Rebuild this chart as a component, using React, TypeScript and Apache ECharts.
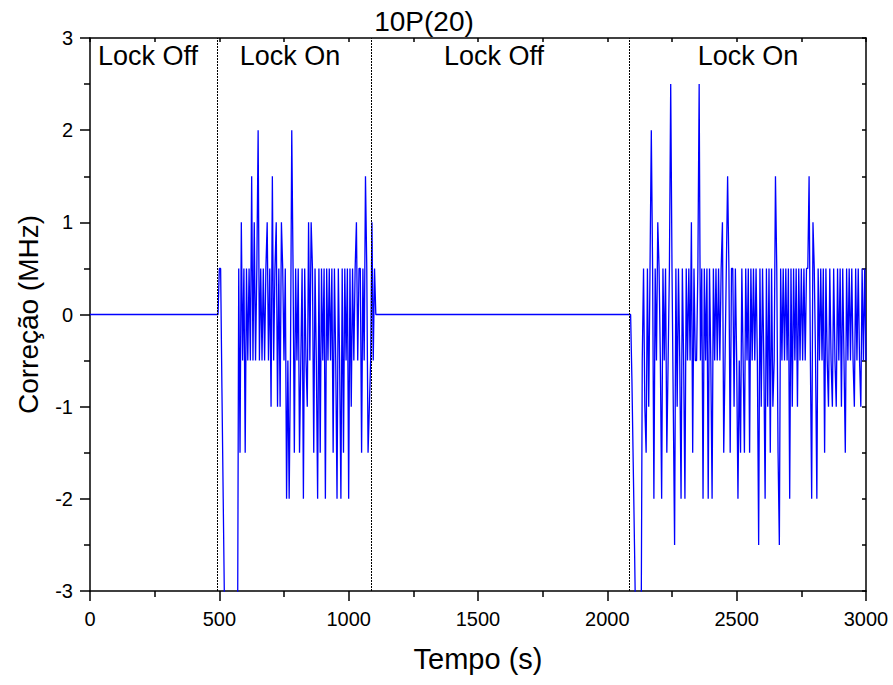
import React, { useEffect, useRef } from "react";
import * as echarts from "echarts";

// ---- data ----
const xTicks = [0, 500, 1000, 1500, 2000, 2500, 3000];
const yTicks = [-3, -2, -1, 0, 1, 2, 3];
const sampleStep = 5; // s
const offStart = 0;
const lockOn1Start = 495;
const lockOn1Values = [
  0, 0.5, 0.5, -0.8, -2.0, -3.2, -4, -4, -4, -4, -4, -4, -4, -4, -4, -4,
  0.5, -1.5, 1.0, -0.5, 0.5, -1.5, 0.5, -0.5, 0.5, -0.5, 1.5, -0.5, 1.0, -0.5,
  0.5, 2.0, -0.5, 0.5, -0.5, 0.5, -0.5, 0.5, 1.0, -0.5, 0.5, -1.0, 1.5, -0.5,
  0.5, 1.0, -1.0, 0.5, -1.0, 1.0, 0.5, -0.5, 0.5, -2.0, -0.5, -2.0, -0.5, 2.0,
  0.5, -1.5, 0.5, -0.5, 0.5, -1.5, -0.5, 0.5, -2.0, 0.5, -0.5, -1.0, 1.0, -0.5,
  1.0, 0.5, -1.5, 0.5, -0.5, -2.0, 0.5, -1.5, 0.5, -0.5, 0.5, -2.0, 0.5, -0.5,
  0.5, -0.5, 0.5, -1.5, 0.5, -0.5, -2.0, 0.5, -0.5, -2.0, 0.5, -1.5, 0.5, -0.5,
  0.5, -2.0, 0.5, -1.0, 0.5, -0.5, 0.5, 1.0, -0.5, 0.5, 0.5, -1.5, 0.5, -0.5,
  1.5, 0.5, -1.5, -1.0, -0.5, 1.0, -0.5, 0.5, 0,
];
const lockOn2Start = 2085;
const lockOn2Values = [
  0, 0, -0.7, -1.6, -2.5, -3.5, -4, -4, -4, -4, -0.5, 0.5, -1.0, -1.5, 0.5,
  -1.0, 0.5, 2.0, 0.5, -2.0, 0.5, -0.5, 1.0, 0.5, -0.5, -2.0, 0.5, -0.5, 0.5,
  -1.5, -0.5, 0.5, 2.5, 0.5, -1.0, -2.5, 0.5, -1.0, 0.5, -0.5, -2.0, 0.5, -0.5,
  -2.0, 0.5, -0.5, 0.5, -0.5, 1.0, -1.5, 0.5, -0.5, -0.5, 0.5, 2.5, -0.5, 0.5,
  -2.0, 0.5, -0.5, 0.5, -2.0, 0.5, -0.5, -2.0, 0.5, -0.5, 0.5, -0.5, 0.5, -0.5,
  0.5, 1.0, -1.5, -0.5, 0.5, 1.5, 0.5, -1.5, 0.5, 0.5, -1.0, 0.5, -0.5, -2.0,
  -0.5, -1.5, 0.5, -0.5, -1.5, 0.5, -0.5, 0.5, -1.5, 0.5, -0.5, 0.5, -0.5, 0.5,
  -0.5, -2.5, 0.5, -1.0, 0.5, -0.5, -2.0, 0.5, -1.0, 0.5, -1.5, 0.5, -1.0, -0.5,
  1.5, 0.5, -1.5, -2.5, 0.5, -0.5, 0.5, -0.5, 0.5, -0.5, 0.5, -2.0, 0.5, -1.0,
  0.5, -0.5, 0.5, -1.0, 0.5, -0.5, 0.5, -0.5, 0.5, -0.5, 0.5, 0.5, 1.5, -0.5,
  -2.0, 1.0, 0.5, -0.5, -2.0, 0.5, -0.5, 0.5, -0.5, 0.5, -1.5, 0.5, -0.5, -1.0,
  0.5, -0.5, -1.0, 0.5, -0.5, -1.0, 0.5, -0.5, 0.5, -1.0, 0.5, -0.5, -1.5, 0.5,
  -0.5, 0.5, -0.5, 0.5, -0.5, -1.0, 0.5, -0.5, 0.5, -0.5, -1.0, 0.5, -0.5, 0.5,
  -0.5,
];
const dividerTimes = [491, 1087, 2085];
const regionLabels = ["Lock Off", "Lock On", "Lock Off", "Lock On"];
const titleText = "10P(20)";
const xName = "Tempo (s)";
const yName = "Correção (MHz)";

const FONT = "'Liberation Sans', Arial, Helvetica, sans-serif";

function buildData(): [number, number][] {
  const pts: [number, number][] = [[offStart, 0]];
  lockOn1Values.forEach((v, i) => pts.push([lockOn1Start + i * sampleStep, v]));
  lockOn2Values.forEach((v, i) => pts.push([lockOn2Start + i * sampleStep, v]));
  return pts;
}

const mkLine = () => ({ show: true, onZero: false, lineStyle: { color: "#000", width: 1.5 } });
const mkTick = (inside: boolean, length: number) => ({
  show: true,
  inside,
  length,
  lineStyle: { color: "#000", width: 1.5 },
});

export default function App() {
  const ref = useRef<HTMLDivElement>(null);
  useEffect(() => {
    if (!ref.current) return;
    const chart = echarts.init(ref.current, undefined, { renderer: "svg" });
    const labelX = [148, 290, 494, 748];
    chart.setOption({
      animation: false,
      backgroundColor: "#fff",
      textStyle: { fontFamily: FONT },
      grid: { left: 90, right: 27, top: 38, bottom: 94, containLabel: false },
      xAxis: [
        {
          type: "value",
          position: "bottom",
          min: xTicks[0],
          max: xTicks[xTicks.length - 1],
          interval: 500,
          axisLine: mkLine(),
          axisTick: mkTick(false, 10),
          minorTick: { show: true, splitNumber: 2, length: 6, lineStyle: { color: "#000", width: 1.5 } },
          axisLabel: {
            show: true,
            color: "#000",
            fontSize: 20,
            margin: 18,
            fontFamily: FONT,
            formatter: (v: number) => String(v),
          },
          splitLine: { show: false },
          minorSplitLine: { show: false },
          name: xName,
          nameLocation: "middle",
          nameGap: 53,
          nameTextStyle: { color: "#000", fontSize: 29, fontFamily: FONT },
        },
        {
          type: "value",
          position: "top",
          min: xTicks[0],
          max: xTicks[xTicks.length - 1],
          interval: 250,
          axisLine: mkLine(),
          axisTick: mkTick(true, 4),
          axisLabel: { show: false },
          splitLine: { show: false },
        },
      ],
      yAxis: [
        {
          type: "value",
          position: "left",
          min: yTicks[0],
          max: yTicks[yTicks.length - 1],
          interval: 1,
          axisLine: mkLine(),
          axisTick: mkTick(false, 10),
          minorTick: { show: true, splitNumber: 2, length: 6, lineStyle: { color: "#000", width: 1.5 } },
          axisLabel: {
            show: true,
            color: "#000",
            fontSize: 20,
            margin: 17,
            fontFamily: FONT,
            formatter: (v: number) => String(v),
          },
          splitLine: { show: false },
          minorSplitLine: { show: false },
          name: yName,
          nameLocation: "middle",
          nameGap: 48,
          nameRotate: 90,
          nameTextStyle: { color: "#000", fontSize: 28, fontFamily: FONT },
        },
        {
          type: "value",
          position: "right",
          min: yTicks[0],
          max: yTicks[yTicks.length - 1],
          interval: 0.5,
          axisLine: mkLine(),
          axisTick: mkTick(true, 4),
          axisLabel: { show: false },
          splitLine: { show: false },
        },
      ],
      series: [
        {
          type: "line",
          xAxisIndex: 0,
          yAxisIndex: 0,
          data: buildData(),
          showSymbol: false,
          symbol: "none",
          clip: true,
          lineStyle: { color: "#0000ff", width: 1.3 },
          markLine: {
            silent: true,
            symbol: "none",
            label: { show: false },
            lineStyle: { type: [2, 1], color: "#000", width: 1 },
            data: dividerTimes.map((t) => ({ xAxis: t })),
          },
        },
      ],
      graphic: [
        {
          type: "text",
          x: 424,
          y: 21,
          style: { text: titleText, fontSize: 28, fill: "#000", textAlign: "center", textVerticalAlign: "middle", fontFamily: FONT },
        },
        ...regionLabels.map((t, i) => ({
          type: "text",
          x: labelX[i],
          y: 56,
          style: { text: t, fontSize: 27, fill: "#000", textAlign: "center", textVerticalAlign: "middle", fontFamily: FONT },
        })),
      ],
    });
    return () => chart.dispose();
  }, []);
  return (
    <div
      ref={ref}
      style={{ position: "absolute", left: 0, top: 0, width: 893, height: 685, background: "#fff" }}
    />
  );
}
